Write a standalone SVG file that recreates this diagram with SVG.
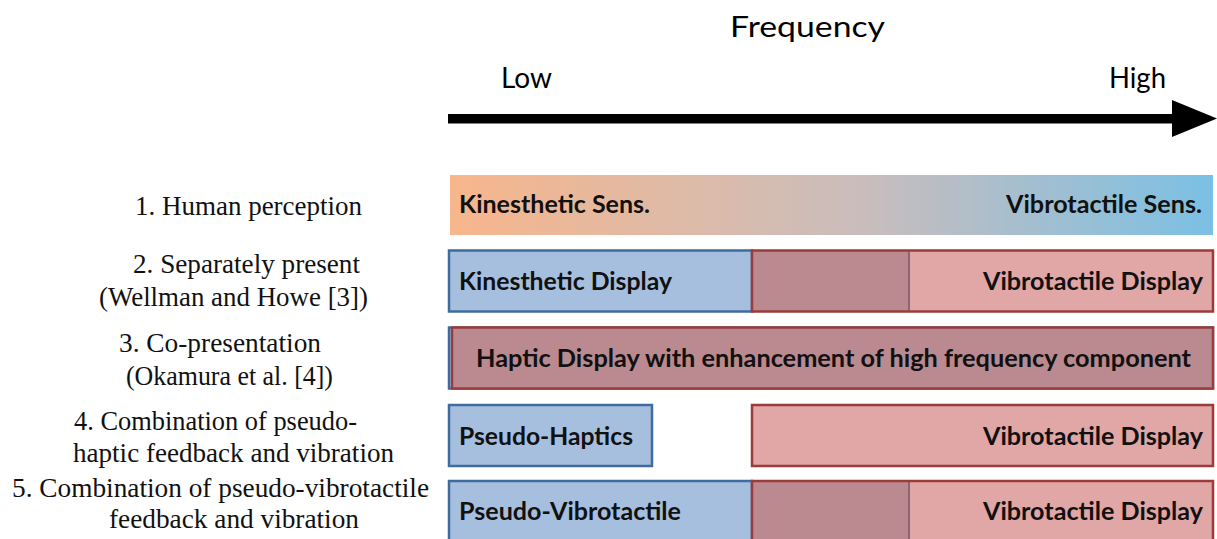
<svg xmlns="http://www.w3.org/2000/svg" width="1217" height="539" viewBox="0 0 1217 539">
<defs>
<linearGradient id="perc" x1="0" y1="0" x2="1" y2="0">
<stop offset="0" stop-color="#F8B68C"/>
<stop offset="0.55" stop-color="#C8BDBD"/>
<stop offset="1" stop-color="#7BC0E4"/>
</linearGradient>
</defs>
<style>
.hd{font-family:Lato,"Open Sans","Liberation Sans",sans-serif;font-size:29px;fill:#000}
.bl{font-family:Lato,"Open Sans","Liberation Sans",sans-serif;font-weight:700;font-size:24px;fill:#111}
.lb{font-family:"Liberation Serif","Times New Roman",serif;font-size:27.5px;fill:#111}
.blue{fill:#A6BFDE;stroke:#3F6C9E;stroke-width:2.5}
.red{fill:#E1A6A6;stroke:#9B3B3A;stroke-width:2.5}
.dark{fill:#BA8A90}
.redline{fill:none;stroke:#9B3B3A;stroke-width:2.5}
.div{stroke:#8A6577;stroke-width:2}
</style>
<rect width="1217" height="539" fill="#fff"/>

<g id="header">
<text class="hd" x="730" y="37" textLength="155" lengthAdjust="spacingAndGlyphs">Frequency</text>
<text class="hd" x="501" y="88" font-size="26" textLength="51" lengthAdjust="spacingAndGlyphs">Low</text>
<text class="hd" x="1109" y="88" font-size="26" textLength="57" lengthAdjust="spacingAndGlyphs">High</text>
</g>

<g id="connectors">
<rect x="448" y="114" width="728" height="9.5" fill="#000"/>
<polygon points="1172,100 1217,118.5 1172,137" fill="#000"/>
</g>

<g id="labels">
<text class="lb" x="135" y="215" textLength="227" lengthAdjust="spacingAndGlyphs">1. Human perception</text>
<text class="lb" x="133" y="273" textLength="227" lengthAdjust="spacingAndGlyphs">2. Separately present</text>
<text class="lb" x="99" y="306" textLength="269" lengthAdjust="spacingAndGlyphs">(Wellman and Howe [3])</text>
<text class="lb" x="119" y="352" textLength="202" lengthAdjust="spacingAndGlyphs">3. Co-presentation</text>
<text class="lb" x="126" y="385" textLength="207" lengthAdjust="spacingAndGlyphs">(Okamura et al. [4])</text>
<text class="lb" x="74" y="430" textLength="283" lengthAdjust="spacingAndGlyphs">4. Combination of pseudo-</text>
<text class="lb" x="73" y="462" textLength="321" lengthAdjust="spacingAndGlyphs">haptic feedback and vibration</text>
<text class="lb" x="12" y="497" textLength="417" lengthAdjust="spacingAndGlyphs">5. Combination of pseudo-vibrotactile</text>
<text class="lb" x="109" y="528" textLength="250" lengthAdjust="spacingAndGlyphs">feedback and vibration</text>
</g>

<g id="row1">
<rect x="450" y="175" width="763" height="60" fill="url(#perc)"/>
<text class="bl" x="459" y="213" textLength="191" lengthAdjust="spacingAndGlyphs">Kinesthetic Sens.</text>
<text class="bl" x="1006" y="213" textLength="196" lengthAdjust="spacingAndGlyphs">Vibrotactile Sens.</text>
</g>

<g id="row2">
<rect class="blue" x="449" y="250.5" width="303" height="61"/>
<rect class="dark" x="752" y="250.5" width="157" height="61"/>
<rect x="909" y="250.5" width="304" height="61" fill="#E1A6A6"/>
<line class="div" x1="909" y1="251.5" x2="909" y2="310.5"/>
<rect class="redline" x="752" y="250.5" width="461" height="61"/>
<text class="bl" x="459" y="290" textLength="213" lengthAdjust="spacingAndGlyphs">Kinesthetic Display</text>
<text class="bl" x="983" y="290" textLength="220" lengthAdjust="spacingAndGlyphs">Vibrotactile Display</text>
</g>

<g id="row3">
<rect class="blue" x="449" y="327.5" width="764" height="61"/>
<rect x="452" y="327.5" width="761" height="61" fill="#BA8A90" stroke="#9B3B3A" stroke-width="2.5"/>
<text class="bl" x="476" y="367" textLength="715" lengthAdjust="spacingAndGlyphs">Haptic Display with enhancement of high frequency component</text>
</g>

<g id="row4">
<rect class="blue" x="449" y="405" width="203" height="61"/>
<rect class="red" x="752" y="405" width="461" height="61"/>
<text class="bl" x="459" y="445" textLength="174" lengthAdjust="spacingAndGlyphs">Pseudo-Haptics</text>
<text class="bl" x="983" y="445" textLength="220" lengthAdjust="spacingAndGlyphs">Vibrotactile Display</text>
</g>

<g id="row5">
<rect class="blue" x="449" y="481" width="303" height="62"/>
<rect class="dark" x="752" y="481" width="157" height="62"/>
<rect x="909" y="481" width="304" height="62" fill="#E1A6A6"/>
<line class="div" x1="909" y1="482" x2="909" y2="543"/>
<rect class="redline" x="752" y="481" width="461" height="62"/>
<text class="bl" x="459" y="520" textLength="222" lengthAdjust="spacingAndGlyphs">Pseudo-Vibrotactile</text>
<text class="bl" x="983" y="520" textLength="220" lengthAdjust="spacingAndGlyphs">Vibrotactile Display</text>
</g>
</svg>
